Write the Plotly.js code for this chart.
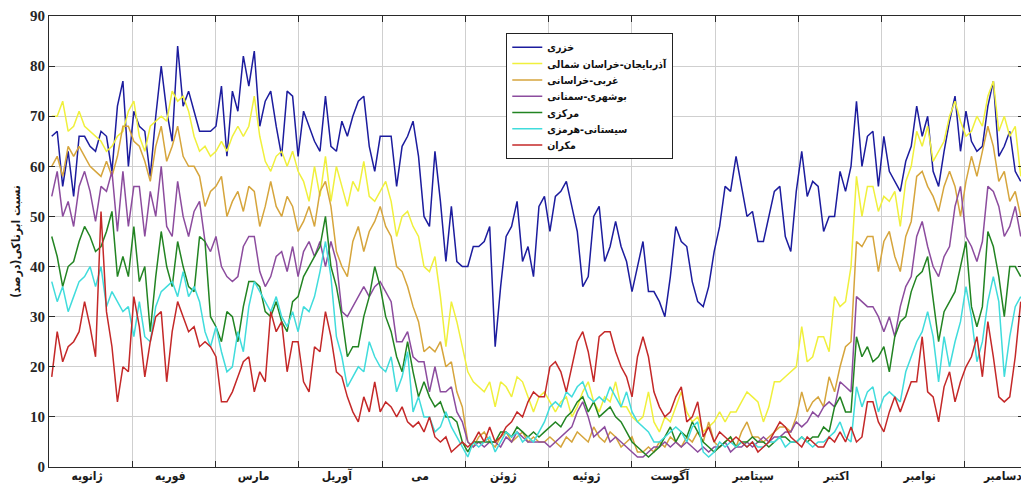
<!DOCTYPE html>
<html>
<head>
<meta charset="utf-8">
<script src="https://cdn.plot.ly/plotly-3.0.1.min.js"></script>
<style>
html,body{margin:0;padding:0;background:#fff;overflow:hidden;}
#chart{width:1024px;height:489px;}
</style>
</head>
<body>
<div id="chart"></div>
<script>
// ---- data (one point every 2 days) ----
const seriesNames = ["خزری","آذربایجان-خراسان شمالی","غربی-خراسانی","بوشهری-سمنانی","مرکزی","سیستانی-هرمزی","مکران"];
const monthLabels = ["ژانویه","فوریه","مارس","آوریل","می","ژوئن","ژوئیه","آگوست","سپتامبر","اکتبر","نوامبر","دسامبر"];
const yTickValues = [0,10,20,30,40,50,60,70,80,90];

const khazari = [66,67,56,63,54,66,66,64,63,67,66,59,72,77,60,71,68,67,58,70,80,71,65,84,72,75,71,67,67,67,
  68,76,62,75,71,82,76,83,68,73,75,68,62,75,74,62,71,68,65,63,74,64,63,69,66,70,73,74,64,59,
  66,66,66,56,64,66,69,62,50,48,63,53,41,52,41,40,40,44,44,45,48,24,36,46,48,53,41,44,38,52,
  54,47,54,55,57,52,47,36,38,50,52,41,44,49,44,41,35,40,45,35,35,33,30,38,48,45,44,37,33,32,
  36,43,48,56,55,62,56,50,51,45,45,50,55,56,46,43,55,63,54,57,56,47,50,50,59,55,60,73,60,66,
  67,56,66,59,57,55,61,64,72,66,70,59,56,63,69,74,63,71,65,63,64,72,77,62,64,67,59,57];
const azarKhorasan = [70,70,73,67,68,71,68,67,66,65,63,64,66,67,71,73,66,63,68,69,70,69,75,73,74,71,66,63,64,62,
  63,65,63,66,68,66,68,74,66,61,59,62,63,60,63,59,57,53,60,54,62,53,60,56,52,57,55,61,54,53,
  55,57,53,46,50,51,48,46,40,39,42,34,24,33,29,24,19,17,16,15,17,12,17,16,14,18,17,14,11,14,
  15,13,11,13,14,10,12,15,17,13,11,14,13,17,12,12,10,9,10,15,9,7,10,9,12,15,11,9,10,7,
  8,9,11,9,11,11,13,15,14,13,9,12,17,17,18,19,20,28,21,22,26,26,23,34,32,33,40,58,50,56,
  56,51,54,53,55,48,57,60,67,64,68,61,63,65,70,73,69,66,67,70,68,74,77,67,70,66,68,58];
const gharbiKhorasani = [60,62,58,64,62,64,62,60,59,58,61,58,62,68,68,65,64,61,57,64,68,61,64,68,62,60,60,58,52,55,
  56,58,50,53,55,51,56,55,48,52,57,52,50,54,52,47,49,52,48,55,57,52,43,40,38,45,48,43,47,49,
  52,48,46,40,39,36,32,29,23,24,23,25,20,21,15,12,5,4,6,7,5,4,6,7,5,6,7,5,6,5,
  5,6,5,4,6,5,7,6,5,8,6,5,7,6,4,5,6,3,3,4,3,5,4,6,5,4,6,5,7,5,
  9,5,4,5,6,4,7,9,6,6,5,6,7,8,8,7,10,15,11,13,14,12,18,15,20,24,25,45,44,46,
  46,39,45,47,42,39,46,49,58,59,56,54,51,56,59,56,50,57,62,58,63,68,64,57,59,53,55,50];
const bushehriSemnani = [54,59,50,53,48,56,59,55,49,56,55,59,47,59,48,56,56,46,55,50,60,48,46,57,50,46,51,53,45,43,
  46,40,38,37,38,44,46,46,39,36,38,42,43,39,44,38,43,45,42,45,40,45,41,31,30,32,34,36,34,36,
  37,35,33,25,25,27,22,21,21,15,20,15,15,16,11,9,5,4,5,4,5,5,4,6,5,7,6,5,5,5,
  5,4,5,6,7,8,11,13,10,6,7,8,5,6,5,4,3,2,2,3,4,4,5,4,5,4,5,4,3,4,
  3,4,4,5,3,4,4,5,4,5,6,5,6,6,7,7,9,8,9,11,10,12,13,12,17,16,15,34,33,32,
  32,30,27,30,26,32,36,38,46,49,44,40,38,42,44,52,56,46,44,41,45,56,55,52,46,48,52,46];
const markazi = [46,42,36,40,41,45,48,46,43,44,47,51,38,42,38,48,37,40,27,38,47,40,36,45,40,36,35,46,45,30,
  28,25,31,30,25,32,37,37,36,31,30,33,29,27,33,34,38,40,42,44,50,40,36,30,22,24,24,30,34,40,
  36,30,27,22,19,25,19,14,17,14,12,13,10,10,9,5,3,5,5,5,5,5,7,7,6,8,7,6,7,6,
  7,8,9,8,10,11,13,14,11,13,10,11,12,10,9,7,5,4,3,2,3,4,6,8,5,7,6,9,7,5,
  4,3,4,5,6,4,5,5,6,5,5,4,5,6,6,5,5,6,5,6,6,8,7,12,14,11,11,26,22,24,
  21,22,24,19,26,29,30,35,38,39,42,34,25,31,33,35,40,45,32,28,32,47,44,38,30,40,40,38];
const sistaniHormozi = [37,33,36,31,34,37,38,40,36,40,32,35,33,31,32,26,33,26,25,32,35,36,37,34,39,34,36,33,27,24,
  28,23,19,20,27,23,32,37,35,33,31,34,30,28,31,27,32,31,34,39,45,38,26,22,16,18,20,19,25,22,
  20,19,22,15,18,23,11,14,10,10,7,8,11,8,6,4,2,5,4,5,6,3,5,7,6,7,5,6,5,7,
  9,12,13,12,15,14,16,17,14,13,14,13,16,14,12,15,11,9,8,7,5,5,6,7,8,7,5,8,9,3,
  2,3,5,4,5,4,5,4,5,4,4,5,5,6,4,5,5,6,5,4,5,5,6,7,9,6,5,16,12,15,
  16,11,14,15,14,13,19,22,25,27,31,26,17,26,20,25,29,36,30,21,25,33,38,33,18,26,32,34];
const makran = [18,27,21,24,25,27,33,28,22,51,31,24,13,20,19,34,28,18,25,30,31,17,27,33,30,27,28,24,25,24,
  22,13,13,15,18,21,22,15,19,17,31,27,29,19,25,25,17,15,24,23,31,26,19,18,14,11,9,14,11,17,
  11,13,12,10,12,9,8,9,7,10,6,5,6,3,4,5,4,5,7,5,8,5,6,8,9,11,10,13,15,14,
  14,20,21,19,15,20,25,27,23,17,26,27,27,23,20,18,14,22,26,22,15,12,10,11,14,16,9,10,13,6,
  8,5,7,6,5,6,5,4,5,3,4,5,7,9,8,6,5,4,6,5,4,4,6,5,7,5,8,5,6,13,
  13,9,7,11,14,11,14,17,17,26,15,14,9,16,19,13,17,20,22,26,18,29,22,14,13,14,22,33];

const seriesValues = [khazari, azarKhorasan, gharbiKhorasani, bushehriSemnani, markazi, sistaniHormozi, makran];
const seriesColors = ["#1c1c9e","#f0f03c","#d6a53c","#8c4c9e","#228422","#40dcdc","#c42828"];

// day index of every sample (every second day of the year)
const days = [];
for (let d = 1; d <= 355; d += 2) days.push(d);

// month boundaries and label positions on the day scale
const monthLen = 365 / 12;
const monthBounds = [];
for (let k = 1; k < 12; k++) monthBounds.push(k * monthLen);
const labelPos = monthLabels.map((m, k) => k * monthLen + 13.9);
const xRange = [0, 356.2];

const traces = seriesValues.map((vals, i) => ({
  x: days, y: vals, type: "scatter", mode: "lines",
  name: "<b>" + seriesNames[i] + "</b>",
  line: {color: seriesColors[i], width: 1.5},
  hoverinfo: "skip"
}));
// carrier for the month-label axis (draws nothing)
traces.push({x: labelPos, y: labelPos.map(() => null), xaxis: "x2", yaxis: "y",
  type: "scatter", mode: "lines", showlegend: false, hoverinfo: "skip"});

const axisColor = "#2a2a2a";
const gridColor = "#cfcfcf";
const layout = {
  width: 1024, height: 489,
  margin: {l: 49, r: 0, t: 16, b: 22},
  paper_bgcolor: "#ffffff", plot_bgcolor: "#ffffff",
  showlegend: true,
  legend: {
    x: 0.469, y: 0.962, xanchor: "left", yanchor: "top",
    bgcolor: "#ffffff", bordercolor: "#222222", borderwidth: 1,
    font: {family: "DejaVu Sans Condensed, DejaVu Sans", size: 10.5, color: "#111"},
    tracegroupgap: 0, itemwidth: 30
  },
  xaxis: {
    range: xRange,
    tickmode: "array", tickvals: monthBounds, ticktext: monthBounds.map(() => ""),
    ticks: "inside", ticklen: 6, tickcolor: axisColor,
    showgrid: true, gridcolor: gridColor, gridwidth: 1, zeroline: false,
    showline: true, linecolor: axisColor, linewidth: 1, mirror: "ticks"
  },
  xaxis2: {
    overlaying: "x", anchor: "y", side: "bottom",
    range: xRange,
    tickmode: "array", tickvals: labelPos,
    ticktext: monthLabels.map(m => "<b>" + m + "</b>"),
    ticks: "", showgrid: false, zeroline: false, showline: false,
    ticklabeloverflow: "allow",
    tickfont: {family: "DejaVu Sans Condensed, DejaVu Sans", size: 12, color: "#1a1a1a"}
  },
  yaxis: {
    range: [0, 90],
    tickmode: "array", tickvals: yTickValues,
    ticktext: yTickValues.map(v => "<b>" + v + "</b>"),
    ticks: "inside", ticklen: 6, tickcolor: axisColor,
    showline: true, linecolor: axisColor, linewidth: 1, mirror: "ticks",
    showgrid: true, gridcolor: gridColor, zeroline: false,
    tickfont: {family: "Liberation Serif", size: 15, color: "#262626"},
    title: {text: "<b>نسبت ابرناکی(درصد)</b>", font: {family: "DejaVu Sans Condensed, DejaVu Sans", size: 12, color: "#1a1a1a"}, standoff: 6}
  }
};

Plotly.newPlot("chart", traces, layout, {staticPlot: true, displayModeBar: false}).then(gd => {
  // tighten the legend rows to the spacing used in the reference
  const legend = gd.querySelector(".legend");
  if (!legend) return;
  const items = Array.from(legend.querySelectorAll("g.traces"));
  const pos = items.map(it => {
    const m = /translate\(\s*([-\d.e]+)[ ,]+([-\d.e]+)\s*\)/.exec(it.getAttribute("transform") || "");
    return m ? [parseFloat(m[1]), parseFloat(m[2])] : null;
  });
  if (items.length < 2 || pos.some(p => !p)) return;
  const oldStep = pos[1][1] - pos[0][1];
  const step = 16.3;
  const y0 = pos[0][1] - (oldStep - step) / 2;
  items.forEach((it, i) => it.setAttribute("transform", "translate(" + pos[i][0] + "," + (y0 + i * step) + ")"));
  const bg = legend.querySelector("rect.bg");
  if (bg) {
    const h = parseFloat(bg.getAttribute("height"));
    bg.setAttribute("height", h - items.length * (oldStep - step));
  }
});
</script>
</body>
</html>
